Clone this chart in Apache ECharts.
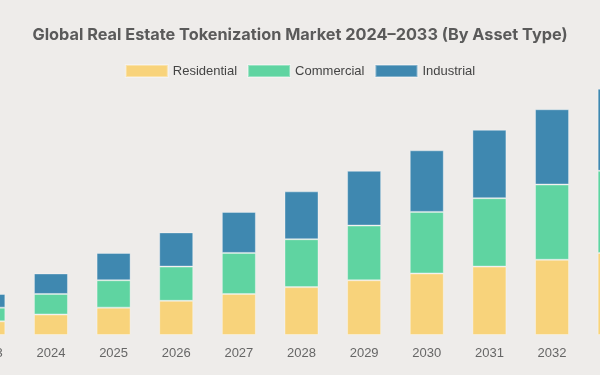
<!DOCTYPE html>
<html>
<head>
<meta charset="utf-8">
<script src="https://cdn.jsdelivr.net/npm/echarts@6/dist/echarts.min.js"></script>
<style>
  html, body { margin: 0; padding: 0; background: #eeecea; }
  #chart { width: 600px; height: 375px; }
</style>
</head>
<body>
<div id="chart"></div>
<script>
// years (2023 and 2033 are cut off by the frame)
var years = ['2023', '2024', '2025', '2026', '2027', '2028', '2029', '2030', '2031', '2032', '2033'];
var residential = [2, 3, 4, 5, 6, 7, 8, 9, 10, 11, 12];
var commercial = [2, 3, 4, 5, 6, 7, 8, 9, 10, 11, 12];
var industrial = [2, 3, 4, 5, 6, 7, 8, 9, 10, 11, 12];

var colors = ['#f8d37b', '#5fd4a1', '#3f88b0'];

var dom = document.getElementById('chart');
var myChart = echarts.init(dom);

function barSeries(name, data, color) {
    return {
        name: name,
        type: 'bar',
        stack: 'total',
        barWidth: 34,
        data: data,
        itemStyle: {
            color: color,
            borderColor: 'rgba(255,255,255,0.35)',
            borderWidth: 1
        }
    };
}

var option = {
    backgroundColor: '#eeecea',
    animation: false,
    title: {
        text: 'Global Real Estate Tokenization Market 2024\u20132033 (By Asset Type)',
        left: 'center',
        top: 27,
        padding: 0,
        textStyle: {
            fontFamily: 'Inter',
            fontWeight: 'bold',
            fontSize: 16.3,
            color: '#5a5a5a'
        }
    },
    legend: {
        top: 64,
        left: 'center',
        padding: 0,
        itemWidth: 42,
        itemHeight: 12,
        itemGap: 10,
        icon: 'rect',
        textStyle: {
            fontFamily: 'Liberation Sans',
            fontSize: 13,
            color: '#444'
        },
        data: ['Residential', 'Commercial', 'Industrial']
    },
    grid: {
        left: -43,
        right: -46,
        top: 61.4,
        bottom: 40,
        containLabel: false,
        outerBoundsMode: 'none'
    },
    xAxis: {
        type: 'category',
        data: years,
        axisLine: { show: false },
        axisTick: { show: false },
        axisLabel: {
            margin: 12,
            fontFamily: 'Liberation Sans',
            fontSize: 13,
            color: '#666'
        }
    },
    yAxis: {
        type: 'value',
        min: 0,
        max: 40,
        show: false
    },
    series: [
        barSeries('Residential', residential, colors[0]),
        barSeries('Commercial', commercial, colors[1]),
        barSeries('Industrial', industrial, colors[2])
    ]
};

myChart.setOption(option);
</script>
</body>
</html>
